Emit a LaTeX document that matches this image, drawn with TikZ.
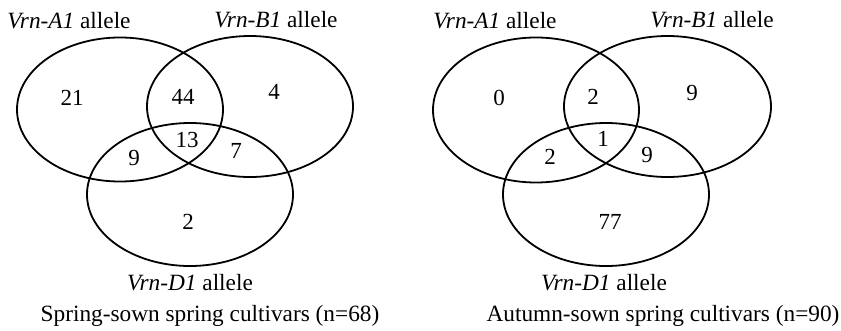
\documentclass[tikz,border=0pt]{standalone}
\usepackage{fontspec}
\setmainfont{Liberation Serif}
\begin{document}
\begin{tikzpicture}[x=1pt,y=-1pt,
  venn/.style={line width=1.8pt},
  num/.style={anchor=base,inner sep=0pt,font=\fontsize{23}{27}\selectfont},
  lab/.style={anchor=base,inner sep=0pt,font=\fontsize{23.3}{27}\selectfont}]
\useasboundingbox[fill=white] (0,0) rectangle (841,330);
% left diagram
\draw[venn] (120,109.5) ellipse [x radius=103pt, y radius=72pt];
\draw[venn] (250,106.5) ellipse [x radius=103pt, y radius=70.5pt];
\draw[venn] (190,194.5) ellipse [x radius=103pt, y radius=71.5pt];
\node[lab] (la) at (69,28) {\textit{Vrn-A1} allele};
\node[lab] (lb) at (276,27) {\textit{Vrn-B1} allele};
\node[lab] (ld) at (190,290) {\textit{Vrn-D1} allele};
\node[lab] (lc) at (210,321) {Spring-sown spring cultivars (n=68)};
\node[num] (n1) at (72,105) {21};
\node[num] (n2) at (183,104) {44};
\node[num] (n3) at (274,99) {4};
\node[num] (n4) at (187,147) {13};
\node[num] (n5) at (134,165) {9};
\node[num] (n6) at (236,158) {7};
\node[num] (n7) at (188,229) {2};
% right diagram
\draw[venn] (536,110) ellipse [x radius=103pt, y radius=72.5pt];
\draw[venn] (667.5,106.5) ellipse [x radius=103.5pt, y radius=70.5pt];
\draw[venn] (606,194.5) ellipse [x radius=103pt, y radius=71.5pt];
\node[lab] (ra) at (495,28) {\textit{Vrn-A1} allele};
\node[lab] (rb) at (712,27) {\textit{Vrn-B1} allele};
\node[lab] (rd) at (604,290) {\textit{Vrn-D1} allele};
\node[lab] (rc) at (663,321) {Autumn-sown spring cultivars (n=90)};
\node[num] (m1) at (499,105) {0};
\node[num] (m2) at (593,104) {2};
\node[num] (m3) at (692,100) {9};
\node[num] (m4) at (603,146) {1};
\node[num] (m5) at (550,164) {2};
\node[num] (m6) at (647,162) {9};
\node[num] (m7) at (610,229) {77};
\end{tikzpicture}
\end{document}
